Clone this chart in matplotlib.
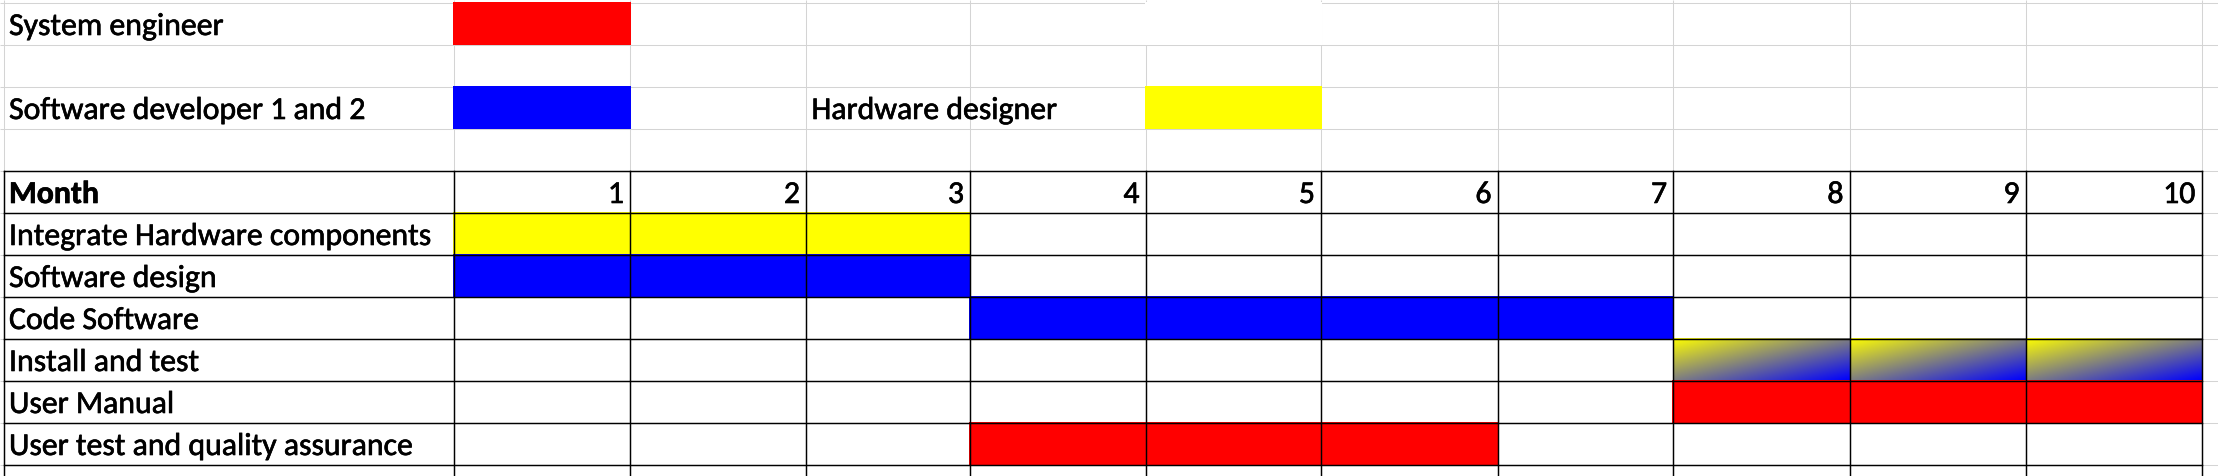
import numpy as np
import matplotlib
matplotlib.use("Agg")
import matplotlib.pyplot as plt
from matplotlib.patches import Rectangle
from matplotlib import font_manager
import matplotlib.patheffects as pe

# ---------------- data ----------------
months = [1, 2, 3, 4, 5, 6, 7, 8, 9, 10]
header_label = "Month"
tasks = ["Integrate Hardware components", "Software design", "Code Software",
         "Install and test", "User Manual", "User test and quality assurance"]
task_start = [1, 1, 4, 8, 8, 4]
task_end = [3, 3, 7, 10, 10, 6]
task_roles = [["Hardware designer"], ["Software developer 1 and 2"],
              ["Software developer 1 and 2"],
              ["Hardware designer", "Software developer 1 and 2"],
              ["System engineer"], ["System engineer"]]
roles = ["System engineer", "Software developer 1 and 2", "Hardware designer"]
role_colors = {"System engineer": "#FF0000",
               "Software developer 1 and 2": "#0000FF",
               "Hardware designer": "#FFFF00"}
# legend placement (row, label column, swatch column) in sheet cells
legend_cells = {"System engineer": (0, 0, 1),
                "Software developer 1 and 2": (2, 0, 1),
                "Hardware designer": (2, 3, 5)}

# ---------------- layout ----------------
W, H = 2218, 476
col_edges = [3.5, 454, 630, 806, 970, 1145.5, 1321, 1497.5, 1673, 1849.5, 2025.5, 2201.5]
row0 = 2.5
row_h = 42.0
n_rows = 12
row_edges = [row0 + row_h * k for k in range(n_rows + 1)]
table_row = 4  # header row index
GRID = "#d4d4d4"

avail = {f.name for f in font_manager.fontManager.ttflist}
FONT = "Carlito" if "Carlito" in avail else ("Lato" if "Lato" in avail else "DejaVu Sans")

fig = plt.figure(figsize=(W / 100, H / 100), dpi=100)
ax = fig.add_axes([0, 0, 1, 1])
ax.set_xlim(0, W)
ax.set_ylim(H, 0)
ax.axis("off")

# fit font size so that the longest label width matches reference
probe = ax.text(9, 100, tasks[0], fontsize=20, family=FONT)
fig.canvas.draw()
wpx = probe.get_window_extent(renderer=fig.canvas.get_renderer()).width
FS = 20 * 422.0 / wpx
probe.remove()
STROKE = [pe.withStroke(linewidth=0.45, foreground="black")]

# light gridlines
for x in col_edges:
    ax.plot([x, x], [0, H], color=GRID, lw=0.75, zorder=1, solid_capstyle="butt")
for y in row_edges:
    ax.plot([0, W], [y, y], color=GRID, lw=0.75, zorder=1, solid_capstyle="butt")


def cell_rect(r, c0, c1, color, z=2):
    x0, x1 = col_edges[c0] - 0.7, col_edges[c1 + 1] + 0.7
    y0, y1 = row_edges[r] - 0.7, row_edges[r + 1] + 0.7
    ax.add_patch(Rectangle((x0, y0), x1 - x0, y1 - y0, facecolor=color,
                           edgecolor="none", zorder=z))


def cell_text(r, c, s, ha="left", bold=False):
    yb = row_edges[r + 1] - 9.5
    if ha == "left":
        x = col_edges[c] + 5.5
    else:
        x = col_edges[c + 1] - 6
    ax.text(x, yb, s, ha=ha, va="baseline", fontsize=FS, family=FONT,
            fontweight="bold" if bold else "normal", color="black", zorder=6,
            path_effects=STROKE)


# white-filled cell hiding gridlines (top row, column under "5")
cell_rect(0, 5, 5, "white")

# legend
for role in roles:
    r, cl, cs = legend_cells[role]
    cell_text(r, cl, role)
    cell_rect(r, cs, cs, role_colors[role])

# table header
cell_text(table_row, 0, header_label, bold=True)
for i, m in enumerate(months):
    cell_text(table_row, i + 1, str(m), ha="right")

# task rows
uu, vv = np.meshgrid(np.linspace(0, 1, 200), np.linspace(0, 1, 60))
tt = ((uu + vv) / 2.0)[..., None]
for j, task in enumerate(tasks):
    r = table_row + 1 + j
    cell_text(r, 0, task)
    rs = task_roles[j]
    for m in range(task_start[j], task_end[j] + 1):
        if len(rs) == 1:
            cell_rect(r, m, m, role_colors[rs[0]])
        else:
            c0 = matplotlib.colors.to_rgb(role_colors[rs[0]])
            c1 = matplotlib.colors.to_rgb(role_colors[rs[1]])
            img = np.array(c0) * (1 - tt) + np.array(c1) * tt
            ax.imshow(img, extent=(col_edges[m], col_edges[m + 1],
                                   row_edges[r + 1], row_edges[r]),
                      interpolation="bilinear", aspect="auto", zorder=2)

# black table borders
tx0, tx1 = col_edges[0], col_edges[-1]
ty0, ty1 = row_edges[table_row], row_edges[-1]
for y in row_edges[table_row:]:
    ax.plot([tx0, tx1], [y, y], color="black", lw=1.05, zorder=5, solid_capstyle="projecting")
for x in col_edges:
    ax.plot([x, x], [ty0, ty1], color="black", lw=1.05, zorder=5, solid_capstyle="projecting")

ax.set_xlim(0, W)
ax.set_ylim(H, 0)
fig.savefig("out.png", dpi=100, facecolor="white")
